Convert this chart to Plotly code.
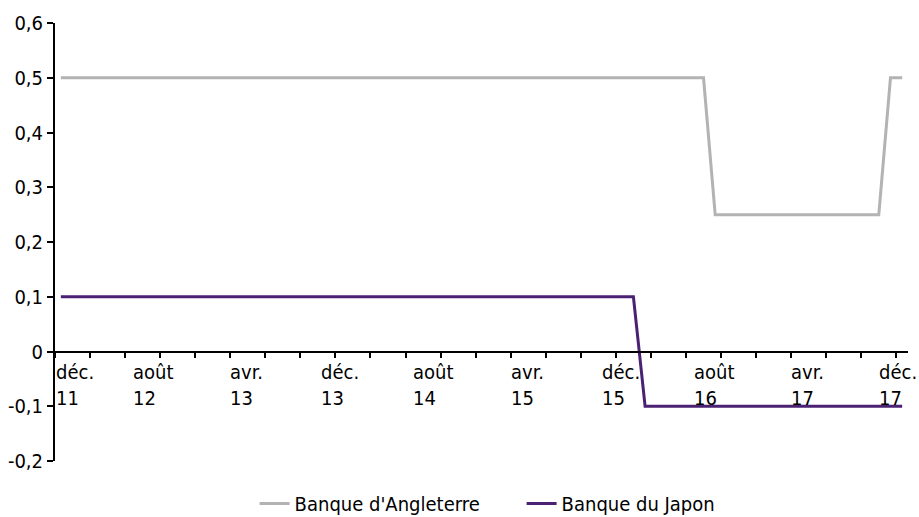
import pandas as pd
import plotly.graph_objects as go

# Monthly policy rates (%), December 2011 to December 2017
months = pd.date_range("2011-12-01", "2017-12-01", freq="MS").strftime("%Y-%m").tolist()

# Bank of England
boe = [
    0.5,                                                              # 2011-12
    0.5, 0.5, 0.5, 0.5, 0.5, 0.5, 0.5, 0.5, 0.5, 0.5, 0.5, 0.5,      # 2012
    0.5, 0.5, 0.5, 0.5, 0.5, 0.5, 0.5, 0.5, 0.5, 0.5, 0.5, 0.5,      # 2013
    0.5, 0.5, 0.5, 0.5, 0.5, 0.5, 0.5, 0.5, 0.5, 0.5, 0.5, 0.5,      # 2014
    0.5, 0.5, 0.5, 0.5, 0.5, 0.5, 0.5, 0.5, 0.5, 0.5, 0.5, 0.5,      # 2015
    0.5, 0.5, 0.5, 0.5, 0.5, 0.5, 0.5, 0.25, 0.25, 0.25, 0.25, 0.25,  # 2016
    0.25, 0.25, 0.25, 0.25, 0.25, 0.25, 0.25, 0.25, 0.25, 0.25, 0.5, 0.5,  # 2017
]

# Bank of Japan
boj = [
    0.1,                                                              # 2011-12
    0.1, 0.1, 0.1, 0.1, 0.1, 0.1, 0.1, 0.1, 0.1, 0.1, 0.1, 0.1,      # 2012
    0.1, 0.1, 0.1, 0.1, 0.1, 0.1, 0.1, 0.1, 0.1, 0.1, 0.1, 0.1,      # 2013
    0.1, 0.1, 0.1, 0.1, 0.1, 0.1, 0.1, 0.1, 0.1, 0.1, 0.1, 0.1,      # 2014
    0.1, 0.1, 0.1, 0.1, 0.1, 0.1, 0.1, 0.1, 0.1, 0.1, 0.1, 0.1,      # 2015
    0.1, -0.1, -0.1, -0.1, -0.1, -0.1, -0.1, -0.1, -0.1, -0.1, -0.1, -0.1,  # 2016
    -0.1, -0.1, -0.1, -0.1, -0.1, -0.1, -0.1, -0.1, -0.1, -0.1, -0.1, -0.1,  # 2017
]

series_names = ["Banque d'Angleterre", "Banque du Japon"]
series_colors = ["#B3B3B3", "#4B2273"]

# Axis labels
label_months = ["2011-12", "2012-08", "2013-04", "2013-12", "2014-08",
                "2015-04", "2015-12", "2016-08", "2017-04", "2017-12"]
label_texts = ["déc.<br>11", "août<br>12", "avr.<br>13", "déc.<br>13", "août<br>14",
               "avr.<br>15", "déc.<br>15", "août<br>16", "avr.<br>17", "déc.<br>17"]

y_ticks = [-0.2, -0.1, 0, 0.1, 0.2, 0.3, 0.4, 0.5, 0.6]
y_tick_texts = ["-0,2", "-0,1", "0", "0,1", "0,2", "0,3", "0,4", "0,5", "0,6"]

FONT = "DejaVu Sans Condensed"
FS = 20
x = list(range(len(months)))

fig = go.Figure()
for name, vals, col in zip(series_names, [boe, boj], series_colors):
    fig.add_trace(go.Scatter(x=x, y=vals, mode="lines", name=name,
                             line=dict(color=col, width=3)))

y_min, y_max = y_ticks[0], y_ticks[-1]
zero_pos = (0 - y_min) / (y_max - y_min)

# tick marks at category boundaries, every three months
tick_pos = [i - 0.5 for i in range(0, len(months), 3)]

fig.update_layout(
    width=919, height=517,
    margin=dict(l=55, r=11, t=23, b=56, autoexpand=False),
    plot_bgcolor="white", paper_bgcolor="white",
    font=dict(family=FONT, size=FS, color="black"),
    showlegend=True,
    legend=dict(orientation="h", x=0.234, xanchor="left", y=-0.097, yanchor="middle",
                font=dict(family=FONT, size=FS, color="black"), itemwidth=30,
                entrywidth=222, entrywidthmode="pixels"),
    xaxis=dict(range=[-0.5, len(months) - 0.5], anchor="free", position=zero_pos,
               showline=True, linecolor="black", linewidth=2,
               tickmode="array", tickvals=tick_pos, ticks="outside", ticklen=5,
               tickwidth=2, tickcolor="black", showticklabels=False,
               showgrid=False, zeroline=False),
    yaxis=dict(range=[y_min, y_max], tickmode="array", tickvals=y_ticks,
               ticktext=y_tick_texts, showline=True, linecolor="black", linewidth=2,
               ticks="outside", ticklen=6, tickwidth=2, tickcolor="black",
               showgrid=False, zeroline=False),
)

last = len(label_months) - 1
for k, (m, txt) in enumerate(zip(label_months, label_texts)):
    idx = months.index(m)
    if k == 0:
        ax, anchor, shift = -0.5, "left", -1
    elif k == last:
        ax, anchor, shift = idx, "center", -4
    else:
        ax, anchor, shift = idx, "center", -1
    fig.add_annotation(x=ax, y=0, xref="x", yref="y", text=txt, showarrow=False,
                       xanchor=anchor, yanchor="top", yshift=-6, xshift=shift,
                       align="left", font=dict(family=FONT, size=FS, color="black"))

fig.write_html("out.html")
